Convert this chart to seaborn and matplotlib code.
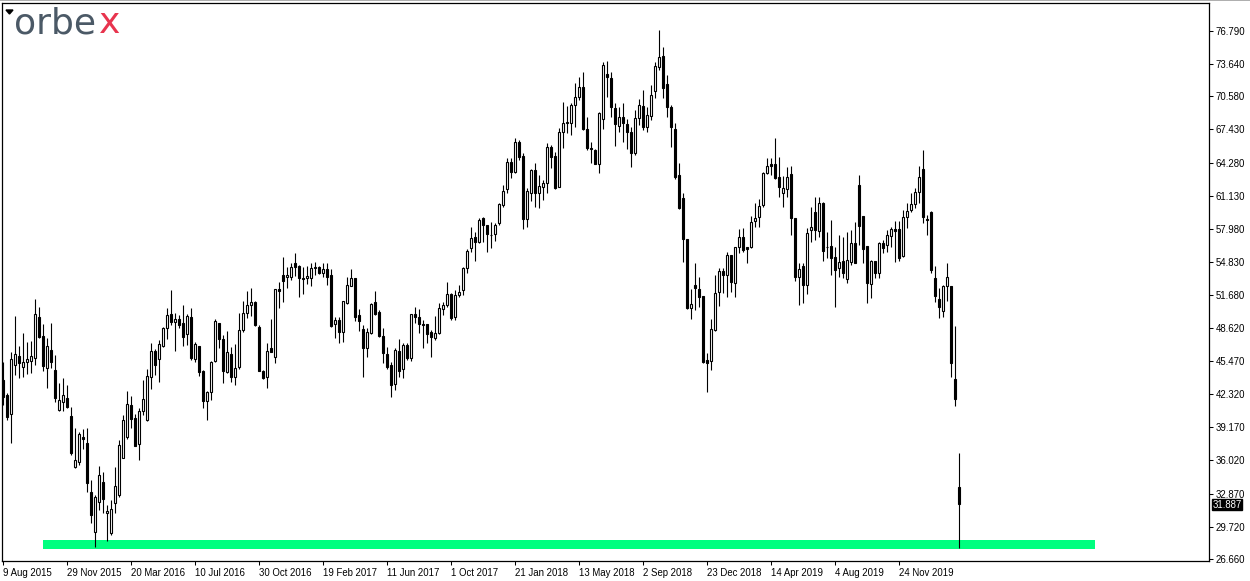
import matplotlib
matplotlib.use("Agg")
import matplotlib.pyplot as plt
import numpy as np
import pandas as pd
import seaborn as sns
from matplotlib.patches import Polygon
from matplotlib.lines import Line2D

# weekly candles, first bar = week of 9 Aug 2015
first_week = "2015-08-09"

opens = [
    43.64, 42.22, 40.38, 45.03, 45.92, 44.84, 45.35, 45.44, 45.70, 49.59,
    47.82, 44.75, 46.49, 44.59, 40.79, 41.52, 41.96, 40.22, 35.42, 35.89,
    38.26, 37.63, 33.01, 29.25, 32.10, 33.96, 30.99, 29.09, 32.00, 32.73,
    36.21, 38.20, 41.24, 40.04, 37.54, 40.73, 39.85, 43.89, 46.39, 45.60,
    46.90, 48.61, 49.94, 49.18, 49.40, 49.02, 47.97, 49.65, 45.64, 46.87,
    44.50, 41.68, 42.54, 45.42, 49.02, 47.54, 44.44, 46.08, 43.90, 44.91,
    48.39, 50.03, 50.73, 51.05, 48.64, 44.53, 43.96, 46.71, 45.86, 52.25,
    53.61, 53.39, 53.45, 54.72, 54.46, 53.29, 53.30, 53.29, 54.30, 54.34,
    53.77, 54.15, 53.61, 48.93, 49.34, 48.23, 50.92, 52.60, 53.29, 49.81,
    48.45, 46.65, 48.07, 51.08, 50.13, 47.82, 46.11, 45.06, 43.26, 46.42,
    44.65, 46.96, 45.70, 49.90, 49.59, 48.92, 48.92, 48.23, 47.59, 48.07,
    50.35, 50.76, 51.80, 49.59, 51.70, 52.18, 54.24, 56.13, 57.24, 56.77,
    58.98, 58.35, 57.40, 57.49, 58.51, 60.25, 61.73, 64.36, 63.41, 66.19,
    64.89, 58.89, 61.42, 63.57, 61.42, 61.92, 62.30, 65.78, 64.89, 61.99,
    67.20, 68.00, 68.00, 69.73, 70.46, 71.47, 67.43, 65.69, 65.46, 64.14,
    68.37, 72.68, 72.26, 69.42, 67.74, 68.56, 67.90, 67.14, 65.15, 68.47,
    69.64, 67.68, 68.69, 71.09, 73.31, 74.38, 71.73, 69.51, 67.43, 63.09,
    60.88, 56.99, 50.44, 52.65, 52.24, 51.61, 45.54, 45.47, 48.38, 52.02,
    53.98, 53.60, 55.50, 52.88, 56.23, 57.24, 56.23, 56.23, 58.76, 59.07,
    60.25, 63.31, 64.10, 64.13, 62.93, 61.41, 61.73, 63.18, 58.98, 53.38,
    54.46, 52.65, 57.87, 59.61, 57.81, 60.46, 56.30, 56.35, 55.28, 54.23,
    54.96, 53.19, 54.87, 56.67, 62.14, 59.20, 56.35, 52.75, 54.93, 53.76,
    56.61, 56.45, 57.34, 57.94, 57.94, 55.44, 59.08, 59.78, 60.35, 61.52,
    63.64, 58.90, 59.62, 53.29, 51.30, 50.23, 52.57, 52.57, 43.71, 33.46,
]
highs = [
    45.38, 42.40, 46.33, 49.71, 46.87, 48.13, 47.28, 47.34, 51.33, 50.54,
    48.95, 47.60, 49.02, 46.01, 43.32, 43.80, 43.17, 41.11, 39.05, 38.74,
    38.96, 39.05, 34.15, 32.73, 35.48, 34.94, 31.78, 32.25, 35.42, 37.95,
    40.32, 42.60, 42.12, 40.38, 40.95, 43.64, 44.72, 47.12, 46.55, 47.44,
    48.70, 50.44, 52.18, 49.97, 49.81, 50.76, 49.90, 50.44, 47.28, 46.90,
    44.60, 42.60, 45.48, 49.40, 49.10, 47.92, 48.33, 46.81, 47.06, 49.97,
    51.17, 52.09, 52.34, 51.14, 48.86, 44.60, 47.19, 49.43, 52.30, 52.98,
    55.35, 54.40, 54.72, 55.73, 54.56, 54.34, 54.50, 54.72, 54.80, 54.46,
    54.72, 54.72, 54.15, 49.66, 49.66, 51.14, 53.45, 54.15, 53.30, 50.35,
    48.86, 48.55, 50.92, 52.09, 50.29, 48.55, 46.81, 45.38, 46.65, 47.50,
    47.18, 47.12, 49.90, 50.60, 50.35, 49.33, 48.95, 48.38, 49.71, 50.91,
    51.07, 52.97, 51.93, 52.18, 52.65, 54.39, 56.04, 58.13, 57.71, 58.98,
    59.08, 58.35, 58.66, 58.50, 60.47, 62.14, 64.67, 64.67, 66.57, 66.41,
    65.15, 61.83, 63.63, 64.26, 63.09, 62.62, 66.10, 65.94, 65.31, 67.52,
    70.00, 69.60, 69.89, 71.79, 72.42, 72.90, 68.63, 66.19, 65.53, 69.10,
    73.85, 73.94, 72.90, 69.89, 69.51, 69.89, 68.37, 67.62, 69.26, 70.30,
    71.16, 69.51, 71.63, 73.85, 76.85, 75.27, 72.58, 69.73, 68.00, 64.20,
    61.42, 57.00, 52.30, 54.71, 53.45, 51.65, 46.17, 49.40, 53.60, 54.24,
    54.24, 55.82, 55.50, 56.29, 57.94, 58.03, 56.29, 59.20, 60.47, 60.78,
    63.35, 64.67, 64.67, 66.57, 64.83, 63.00, 63.82, 63.94, 59.00, 54.71,
    54.77, 58.03, 60.02, 61.03, 60.97, 60.50, 57.71, 58.82, 56.29, 57.40,
    57.24, 57.71, 57.87, 58.66, 63.09, 59.20, 56.35, 55.02, 54.93, 56.76,
    56.92, 57.87, 58.13, 58.77, 58.77, 59.78, 60.41, 61.36, 61.83, 63.95,
    65.47, 59.30, 59.72, 54.46, 52.34, 52.66, 54.72, 52.60, 48.77, 36.69,
]
lows = [
    41.27, 39.85, 37.69, 44.12, 43.86, 43.96, 44.21, 44.27, 45.06, 47.60,
    44.50, 42.91, 44.75, 41.58, 40.73, 40.73, 40.95, 36.52, 35.30, 35.57,
    37.06, 33.04, 30.04, 27.83, 31.31, 30.99, 28.40, 28.93, 31.05, 32.57,
    36.21, 38.01, 39.05, 37.38, 36.05, 40.32, 39.78, 42.82, 44.12, 43.48,
    46.80, 47.50, 48.86, 46.42, 48.54, 46.87, 46.96, 45.54, 45.32, 44.02,
    40.96, 39.85, 41.75, 45.39, 46.65, 43.39, 44.28, 43.42, 43.17, 44.66,
    48.20, 49.56, 49.72, 48.77, 44.50, 43.71, 42.92, 46.30, 45.23, 50.45,
    51.08, 52.34, 53.13, 53.51, 51.49, 51.81, 52.80, 52.60, 53.60, 53.67,
    53.45, 52.66, 48.64, 47.66, 47.19, 47.28, 50.86, 52.57, 49.24, 48.33,
    43.96, 45.86, 48.01, 49.81, 47.76, 45.29, 44.65, 42.06, 42.69, 43.96,
    43.80, 45.54, 45.47, 49.02, 48.13, 46.64, 47.12, 45.85, 47.44, 47.99,
    49.81, 50.53, 49.33, 49.33, 51.55, 51.70, 53.82, 55.82, 54.96, 56.67,
    56.77, 55.82, 56.13, 56.86, 58.35, 60.09, 61.35, 62.78, 63.31, 64.52,
    57.94, 58.13, 60.66, 60.09, 59.93, 60.72, 61.42, 63.72, 61.73, 61.92,
    65.62, 67.05, 66.89, 67.62, 70.21, 67.36, 65.46, 64.20, 64.10, 63.31,
    67.43, 70.52, 68.63, 65.84, 67.20, 66.25, 65.53, 63.88, 64.99, 67.84,
    67.36, 67.20, 68.31, 70.37, 73.06, 70.37, 68.56, 65.78, 62.68, 59.83,
    54.87, 50.40, 49.40, 50.28, 50.60, 45.22, 42.53, 44.59, 48.32, 50.66,
    51.93, 51.55, 52.02, 51.55, 55.66, 55.82, 54.77, 56.13, 58.19, 58.19,
    60.09, 63.19, 63.09, 62.68, 61.03, 60.08, 61.03, 57.40, 53.06, 50.75,
    50.91, 51.80, 56.76, 56.92, 57.24, 54.96, 55.18, 53.60, 50.53, 53.44,
    53.29, 52.87, 54.55, 54.71, 56.45, 54.71, 50.91, 51.39, 53.29, 53.29,
    55.72, 55.82, 56.24, 54.87, 54.97, 55.35, 58.04, 59.62, 59.94, 60.47,
    58.58, 57.41, 53.83, 51.08, 49.50, 49.59, 51.17, 43.96, 41.18, 27.67,
]
closes = [
    42.06, 40.16, 45.60, 46.11, 45.22, 45.35, 45.60, 45.92, 49.90, 47.75,
    45.00, 46.87, 45.38, 41.90, 41.74, 42.22, 41.05, 36.68, 36.05, 38.52,
    38.07, 33.84, 30.80, 32.57, 34.63, 32.32, 31.21, 31.37, 33.58, 37.47,
    39.85, 41.33, 39.91, 37.41, 40.70, 41.84, 43.99, 46.39, 45.03, 47.03,
    48.54, 49.81, 49.18, 49.43, 48.86, 47.75, 49.71, 45.76, 47.03, 44.44,
    41.68, 42.51, 45.35, 49.24, 47.57, 44.53, 46.27, 43.90, 44.82, 48.39,
    49.97, 50.73, 51.08, 48.90, 44.53, 43.80, 46.40, 46.33, 52.25, 52.12,
    53.07, 53.61, 54.34, 54.34, 53.29, 53.26, 53.50, 54.24, 54.40, 53.77,
    54.15, 53.45, 48.77, 49.34, 48.23, 51.14, 52.66, 53.29, 49.66, 49.28,
    46.71, 48.23, 50.86, 49.91, 47.82, 46.18, 44.91, 43.17, 46.49, 44.53,
    46.96, 45.70, 49.90, 49.65, 48.92, 48.90, 47.97, 47.75, 48.07, 50.44,
    50.76, 51.80, 49.49, 51.70, 52.02, 54.24, 55.88, 57.08, 56.77, 58.82,
    58.35, 57.49, 57.42, 58.35, 60.34, 61.57, 64.36, 63.41, 66.19, 64.83,
    58.89, 61.61, 63.57, 61.35, 62.05, 62.37, 65.78, 64.83, 61.83, 67.20,
    68.06, 68.10, 69.73, 70.46, 71.41, 67.43, 65.69, 65.53, 64.14, 69.01,
    73.53, 72.36, 69.58, 67.90, 68.63, 68.00, 67.20, 65.21, 68.47, 69.73,
    67.68, 68.79, 70.68, 73.43, 74.26, 71.32, 69.51, 67.62, 62.87, 59.93,
    56.99, 50.44, 50.90, 52.34, 51.48, 45.38, 45.22, 48.45, 51.93, 53.98,
    53.60, 55.50, 52.97, 56.23, 57.18, 55.98, 56.10, 58.66, 58.98, 60.18,
    63.25, 63.95, 63.94, 62.84, 61.92, 61.82, 62.87, 58.98, 53.38, 54.14,
    52.65, 57.55, 58.19, 57.87, 60.40, 55.91, 56.23, 55.18, 54.08, 54.80,
    53.82, 55.02, 56.61, 54.77, 58.25, 56.04, 52.87, 54.96, 53.76, 56.61,
    56.13, 57.40, 57.94, 57.82, 55.19, 59.08, 59.71, 60.35, 61.52, 62.88,
    59.08, 58.80, 54.08, 51.65, 50.54, 52.57, 53.45, 45.29, 41.81, 31.887,
]

date_labels = ["9 Aug 2015", "29 Nov 2015", "20 Mar 2016", "10 Jul 2016",
               "30 Oct 2016", "19 Feb 2017", "11 Jun 2017", "1 Oct 2017",
               "21 Jan 2018", "13 May 2018", "2 Sep 2018", "23 Dec 2018",
               "14 Apr 2019", "4 Aug 2019", "24 Nov 2019"]
price_ticks = [26.660, 29.720, 32.870, 36.020, 39.170, 42.320, 45.470, 48.620,
               51.680, 54.830, 57.980, 61.130, 64.280, 67.430, 70.580, 73.640,
               76.790]
last_price = 31.887
support_low, support_high = 27.61, 28.46
support_bars = (10, 273)

df = pd.DataFrame({"open": opens, "high": highs, "low": lows, "close": closes})
df["week"] = pd.date_range(first_week, periods=len(df), freq="7D")
df["bar"] = np.arange(len(df))
df["up"] = df["close"] >= df["open"]

sns.set_style("white")
plt.rcParams["font.family"] = ["Liberation Sans", "DejaVu Sans"]

fig = plt.figure(figsize=(12.5, 5.81), dpi=100)
ax = fig.add_axes([2 / 1250, 1 - 561 / 581, 1207 / 1250, 558 / 581])

# support zone
ax.fill_between(support_bars, support_low, support_high, color="#00ff7f", lw=0, zorder=1)

# wicks
ax.vlines(df["bar"], df["low"], df["high"], color="black", lw=0.8, zorder=2)
# bodies
body_bottom = df[["open", "close"]].min(axis=1)
body_h = (df["close"] - df["open"]).abs().clip(lower=0.04)
ax.bar(df["bar"], body_h, bottom=body_bottom, width=0.55,
       color=np.where(df["up"], "white", "black"), edgecolor="black",
       linewidth=0.8, zorder=3)

ax.set_xlim(-0.25, 301.5)
ax.set_ylim(26.47, 79.42)

# y axis on the right
ax.yaxis.tick_right()
ax.set_yticks(price_ticks)
ax.set_yticklabels([f"{v:.3f}" for v in price_ticks])
ax.tick_params(axis="y", which="major", direction="out", length=3, width=0.75,
               pad=2, labelsize=6.9, colors="black", right=True, left=False)

label_dates = pd.to_datetime(date_labels, format="%d %b %Y")
label_pos = [int(df.index[df["week"] == d][0]) for d in label_dates]
ax.set_xticks(label_pos)
ax.set_xticklabels(date_labels)
ax.tick_params(axis="x", direction="out", length=3, width=0.75, pad=2,
               labelsize=6.9, colors="black", bottom=True)
for lab in ax.get_xticklabels():
    lab.set_horizontalalignment("left")

for sp in ax.spines.values():
    sp.set_visible(True)
    sp.set_color("black")
    sp.set_linewidth(0.9)

# current price tag
ax.annotate(f"{last_price:.3f}", xy=(1.0, last_price), xycoords=("axes fraction", "data"),
            xytext=(2.5, -0.5), textcoords="offset points", ha="left", va="center",
            fontsize=6.9, color="white", zorder=5,
            bbox=dict(boxstyle="square,pad=0.05", fc="black", ec="black"))

# window top line
fig.add_artist(Line2D([0, 1], [0.9995, 0.9995], color="#a0a0a0", lw=1.2))

# chart menu arrow
tri = Polygon([[6 / 1250, 1 - 10 / 581], [13 / 1250, 1 - 10 / 581], [9.5 / 1250, 1 - 14 / 581]],
              closed=True, transform=fig.transFigure, color="black")
fig.add_artist(tri)

# logo
fig.text(14 / 1250, 1 - 33 / 581, "orbe", fontsize=26, color="#4b5966",
         family="DejaVu Sans", va="baseline", ha="left")
fig.text(99 / 1250, 1 - 33 / 581, "x", fontsize=26, color="#e8344e",
         family="DejaVu Sans", va="baseline", ha="left")

fig.savefig("out.png", dpi=100)
